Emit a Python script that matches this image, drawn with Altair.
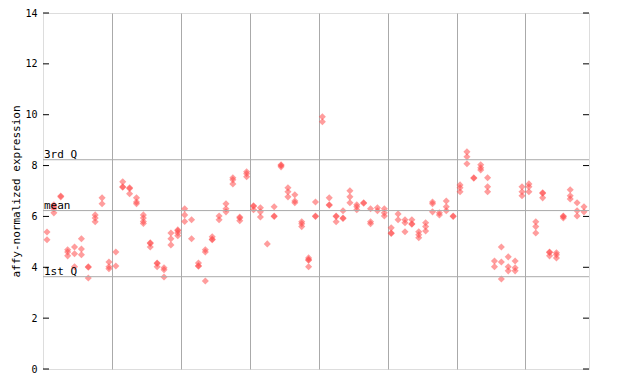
import altair as alt
import pandas as pd

# expression values per sample column, grouped as in the reference (8 groups)
group1 = [[5.39, 5.08], [6.46, 6.38, 6.3, 6.14], [6.8, 6.77], [4.69, 4.6, 4.45],
          [4.8, 4.53, 4.02], [5.12, 4.72, 4.49], [4.02, 4.0, 3.58], [6.06, 5.94, 5.79],
          [6.73, 6.5], [4.21, 4.02, 3.94]]
group2 = [[4.6, 4.05], [7.36, 7.17, 7.15], [7.13, 7.1, 6.89], [6.73, 6.57, 6.5],
          [6.06, 5.94, 5.8, 5.72], [4.96, 4.94, 4.8], [4.17, 4.15, 4.02], [3.98, 3.9, 3.62],
          [5.35, 5.12, 4.88], [5.47, 5.44, 5.35, 5.24]]
group3 = [[6.3, 6.06, 5.8], [5.87, 5.12], [4.17, 4.06, 4.04], [4.69, 4.6, 3.46],
          [5.2, 5.1, 5.08], [6.02, 5.87], [6.5, 6.3, 6.18], [7.52, 7.44, 7.28],
          [5.98, 5.94, 5.83], [7.76, 7.68, 7.56]]
group4 = [[6.42, 6.4, 6.26], [6.34, 6.18, 5.98], [4.92], [6.38, 6.02, 6.0],
          [8.03, 8.0, 7.95], [7.13, 6.97, 6.77], [6.85, 6.61, 6.54], [5.79, 5.71, 5.6],
          [4.37, 4.3, 4.28, 4.02], [6.57, 6.02, 6.0]]
group5 = [[9.92, 9.72], [6.73, 6.46, 6.44], [6.02, 6.0, 5.79], [6.22, 5.94, 5.92],
          [7.01, 6.77, 6.54], [6.46, 6.38, 6.26], [6.54, 6.52], [6.3, 5.79, 5.71],
          [6.34, 6.22], [6.3, 6.14, 6.02]]
group6 = [[5.55, 5.35, 5.33], [6.1, 5.87], [5.87, 5.75, 5.4], [5.87, 5.71, 5.69],
          [5.4, 5.28, 5.16], [5.75, 5.6, 5.43], [6.57, 6.5, 6.18], [6.14, 6.06],
          [6.61, 6.38, 6.22], [6.02, 6.0]]
group7 = [[7.24, 7.13, 6.97], [8.54, 8.35, 8.07], [7.52, 7.5], [8.03, 7.91, 7.83],
          [7.52, 7.17, 6.97], [4.25, 4.02], [4.8, 4.21, 3.54], [4.41, 4.02, 3.86],
          [4.25, 3.98, 3.86], [7.17, 6.97, 6.81]]
group8 = [[7.28, 7.17, 6.97], [5.79, 5.6, 5.35], [6.93, 6.91, 6.73], [4.6, 4.58, 4.45],
          [4.57, 4.49, 4.37], [6.02, 6.0, 5.94], [7.05, 6.81, 6.69], [6.54, 6.22, 6.02],
          [6.38, 6.18]]

groups = [group1, group2, group3, group4, group5, group6, group7, group8]

quartile_values = [8.23, 6.23, 3.63]
quartile_labels = ["3rd Q", "mean", "1st Q"]
y_ticks = [0, 2, 4, 6, 8, 10, 12, 14]
group_bounds = [9.5, 19.5, 29.5, 39.5, 49.5, 59.5, 69.5]

rows = []
i = 0
for g in groups:
    for col in g:
        for v in col:
            rows.append({"idx": i, "value": v})
        i += 1
df = pd.DataFrame(rows)

W, H = 546, 356
FONT = "DejaVu Sans Mono"

xscale = alt.Scale(domain=[-0.58, 78.73], nice=False, zero=False)
yscale = alt.Scale(domain=[0, 14], nice=False)

base_x = alt.X("idx:Q", scale=xscale,
               axis=alt.Axis(values=group_bounds, grid=True, gridColor="#aaaaaa",
                             gridWidth=1, labels=False, ticks=False, domain=False, title=None))
base_y = alt.Y("value:Q", scale=yscale,
               axis=alt.Axis(values=y_ticks, grid=False, domain=False, tickSize=0,
                             labelFont=FONT, labelFontSize=10, labelColor="black",
                             labelPadding=6, title="affy-normalized expression",
                             titleFont=FONT, titleFontSize=11, titleFontWeight="normal",
                             titleColor="black", titlePadding=3))

points = alt.Chart(df).mark_point(shape="diamond", filled=True, size=50,
                                  color="#ff4d4d", opacity=0.55, strokeWidth=0).encode(
    x=base_x, y=base_y)

qdf = pd.DataFrame({"q": quartile_values, "label": quartile_labels})
qrules = alt.Chart(qdf).mark_rule(color="#aaaaaa", strokeWidth=1).encode(
    y=alt.Y("q:Q", scale=yscale), x=alt.value(0), x2=alt.value(W))
qtext = alt.Chart(qdf).mark_text(align="left", baseline="bottom", font=FONT,
                                 fontSize=11, color="black", dx=1, dy=0).encode(
    y=alt.Y("q:Q", scale=yscale), x=alt.value(0), text="label:N")

tdf = pd.DataFrame({"t": y_ticks})
lticks = alt.Chart(tdf).mark_rule(color="black", strokeWidth=1).encode(
    y=alt.Y("t:Q", scale=yscale), x=alt.value(0), x2=alt.value(6))
rticks = alt.Chart(tdf).mark_rule(color="black", strokeWidth=1).encode(
    y=alt.Y("t:Q", scale=yscale), x=alt.value(W - 6), x2=alt.value(W))

chart = alt.layer(points, qrules, qtext, lticks, rticks).properties(
    width=W, height=H,
    autosize=alt.AutoSizeParams(type="none"),
    padding={"left": 35, "top": 5, "right": 43, "bottom": 7},
).configure_view(stroke="black", strokeWidth=1).configure(background="white")

chart.save("out.html", embed_options={"renderer": "svg", "actions": False})
